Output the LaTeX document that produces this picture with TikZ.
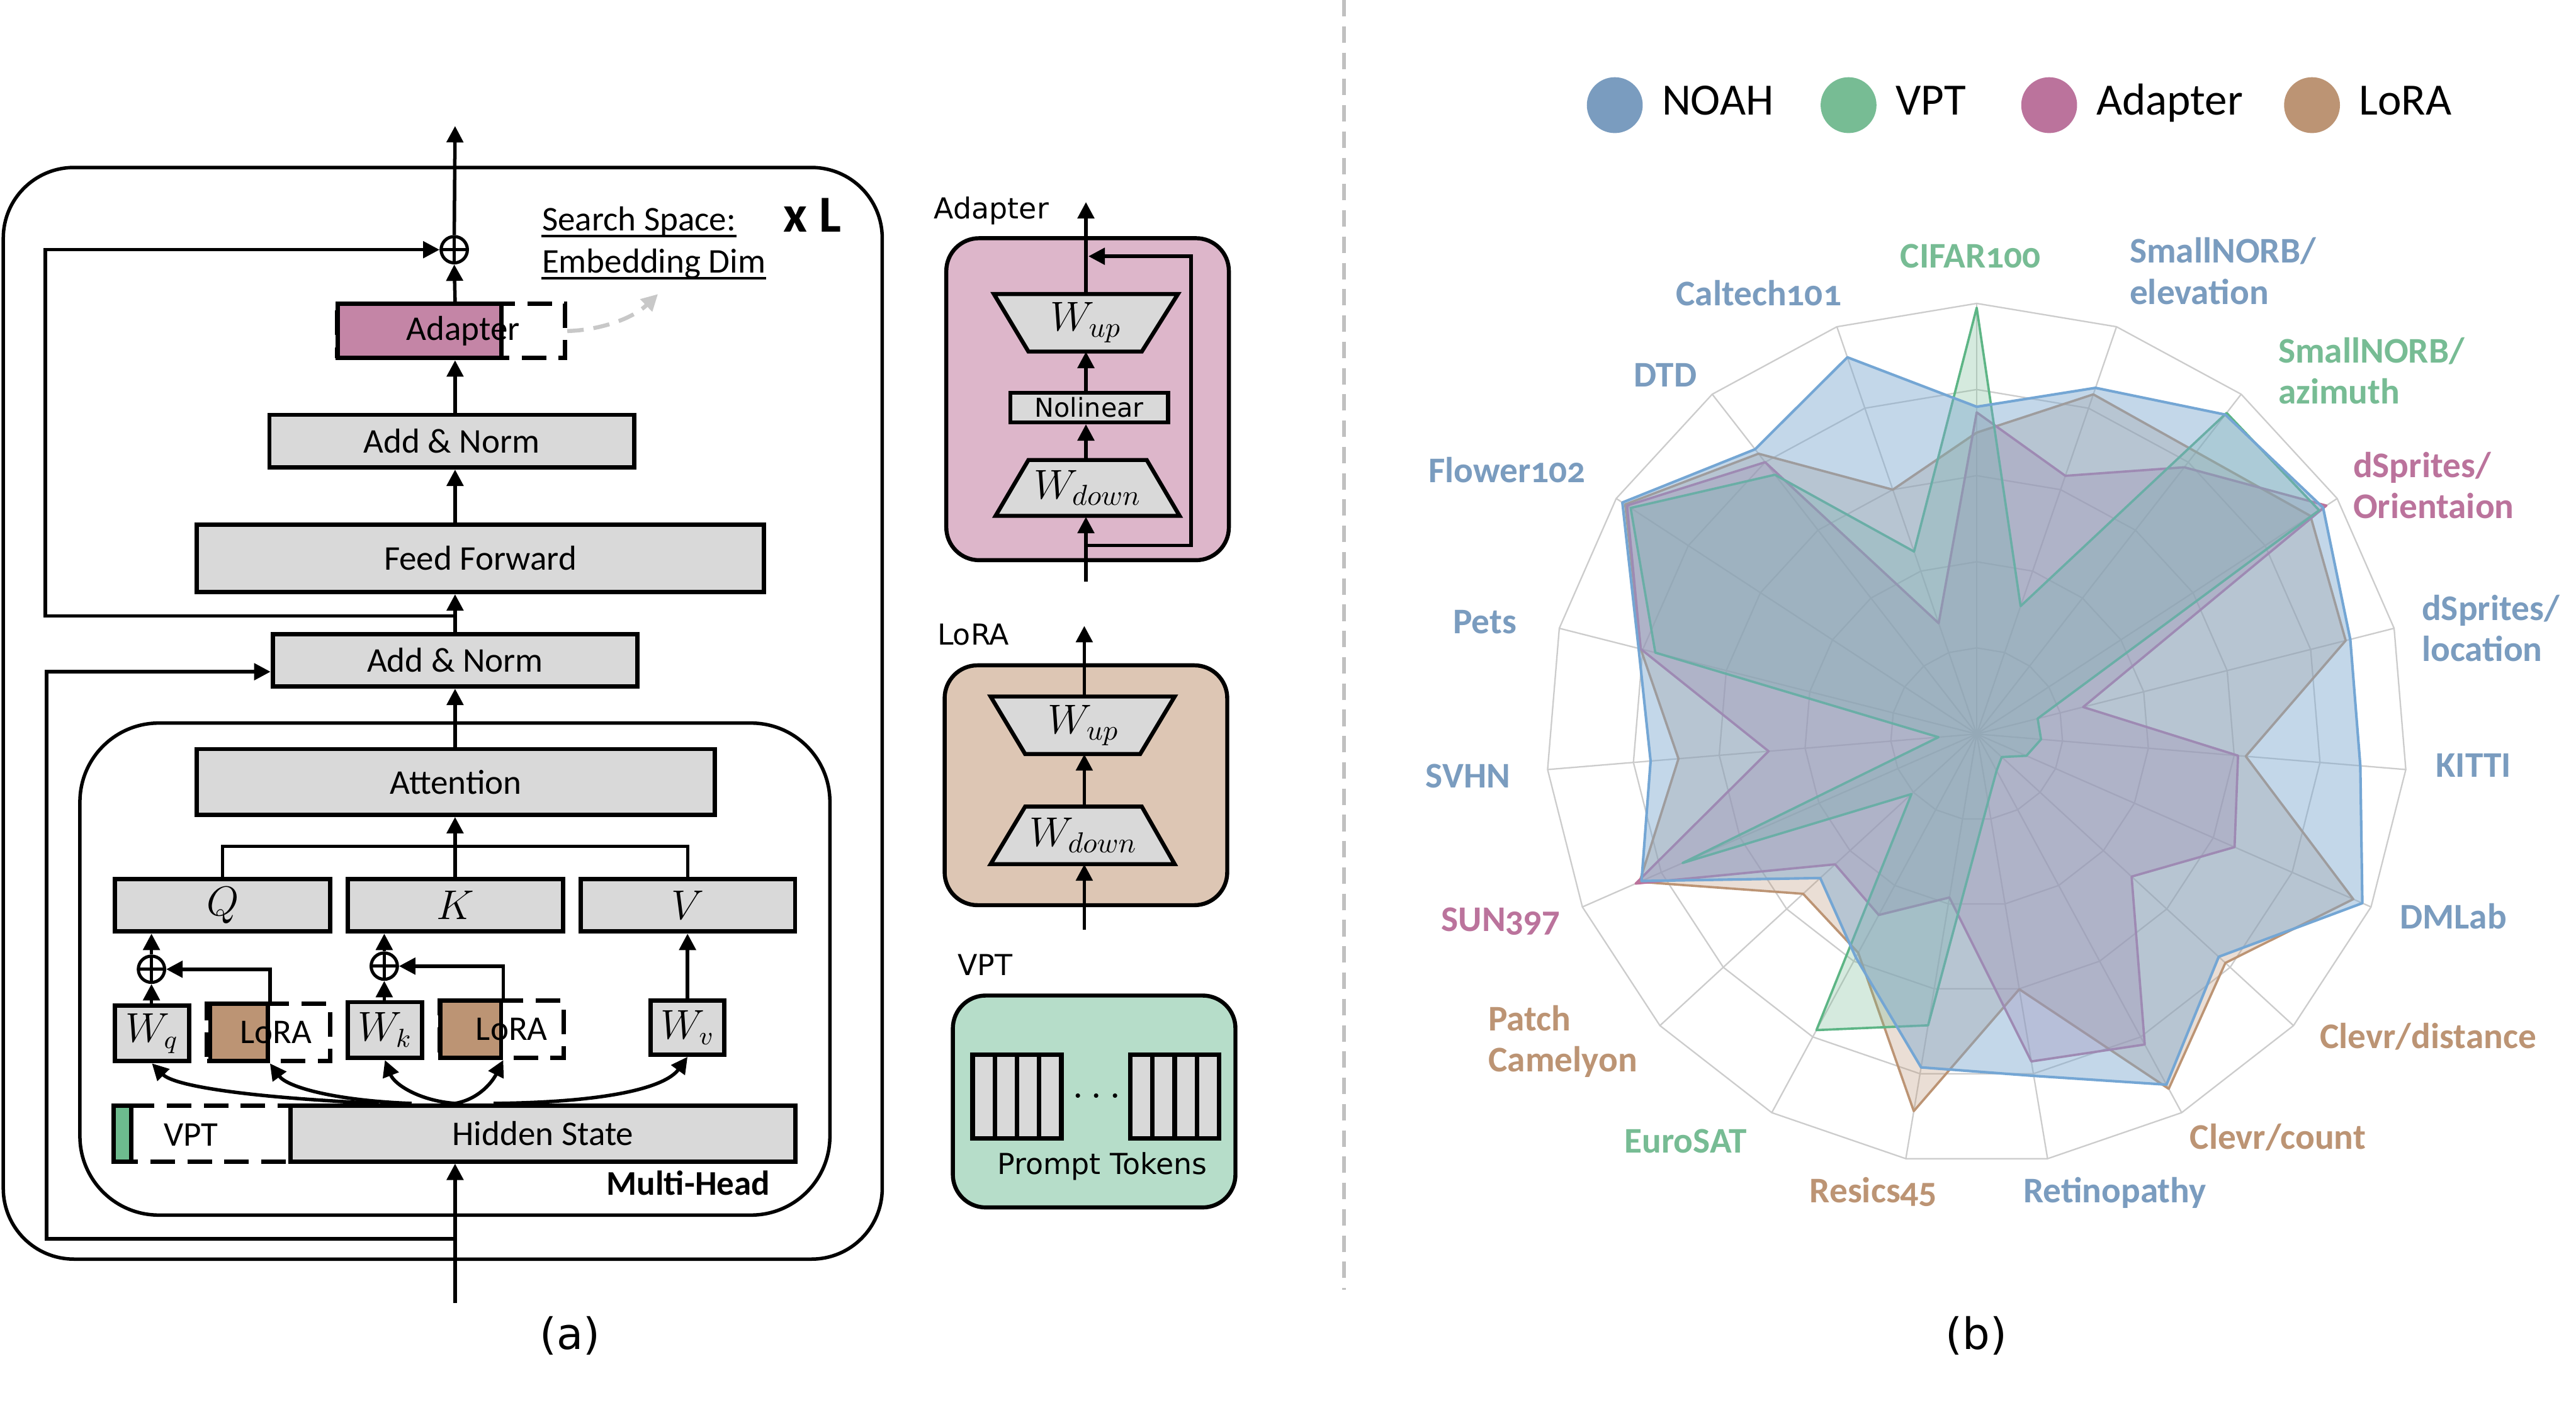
\documentclass[tikz,border=0pt]{standalone}
\usepackage{fontspec}
\setmainfont{Carlito}
\newfontfamily\panelfont{DejaVu Sans}
\newfontfamily\axisfont[Numbers=OldStyle]{Carlito}
\usepackage{tikz}
\usetikzlibrary{arrows.meta,positioning,calc}
\definecolor{boxgray}{HTML}{D9D9D9}
\definecolor{adapterc}{HTML}{BB739C}
\definecolor{lorac}{HTML}{BC9474}
\definecolor{vptc}{HTML}{77BC94}
\definecolor{noahc}{HTML}{7A9CBF}
\definecolor{noahline}{HTML}{74A6D4}
\definecolor{noahfill}{HTML}{7BA7D0}
\definecolor{vptline}{HTML}{5DB585}
\definecolor{adapterpanel}{HTML}{DDB6CA}
\definecolor{lorapanel}{HTML}{DDC6B4}
\definecolor{vptpanel}{HTML}{B6DDC9}
\definecolor{adapterbox}{HTML}{C485A6}
\definecolor{vptbox}{HTML}{6DBB8E}
\definecolor{gridc}{HTML}{CCCCCC}
\definecolor{sepc}{HTML}{C0C0C0}
\definecolor{hintc}{HTML}{C8C8C8}

% one radar polygon: name, style, 19 values clockwise from the top
\newcommand{\radarseries}[3]{%
  \foreach \v [count=\i from 0] in {#3}
    \coordinate (#1\i) at ({90-\i*360/19}:\v);
  \filldraw[#2] (#10) \foreach \i in {1,...,18}{ -- (#1\i)} -- cycle;
}

\begin{document}
\begin{tikzpicture}[x=0.2mm, y=-0.2mm, >={Triangle[length=2mm,width=2mm]},
    font=\fontsize{12}{14}\selectfont,
    frame/.style={draw, line width=1.2pt, rounded corners=8.6mm, inner sep=0pt},
    box/.style={draw, line width=1.5pt, fill=boxgray, inner sep=0pt, minimum height=6.4mm},
    mbox/.style={box, font=\fontsize{14}{16}\selectfont},
    wbox/.style={box, font=\fontsize{13.5}{15}\selectfont, minimum height=6.8mm},
    dbox/.style={draw, line width=1.5pt, dash pattern=on 3mm off 1.5mm, inner sep=0pt, minimum height=7mm},
    patch/.style={draw, line width=1.5pt, inner sep=0pt, minimum height=7mm},
    plus/.style={draw, circle, line width=1.1pt, inner sep=0pt, minimum size=3.2mm,
      path picture={\draw[line width=1.1pt] (path picture bounding box.north) -- (path picture bounding box.south)
                    (path picture bounding box.west) -- (path picture bounding box.east);}},
    flow/.style={->, line width=1.2pt},
    hint/.style={->, line width=1.4pt, hintc, dash pattern=on 2mm off 1.2mm},
    uline/.style={line width=0.8pt},
    panel/.style={draw, line width=1.4pt, rounded corners=4mm, inner sep=0pt, minimum width=34.4mm},
    paneltitle/.style={font=\panelfont\fontsize{10}{12}\selectfont, anchor=base, inner sep=0pt},
    trap/.style={draw, line width=1.4pt, fill=boxgray, line join=miter},
    wlab/.style={inner sep=0pt, minimum height=6.9mm, font=\fontsize{14}{16}\selectfont},
    nlbox/.style={draw, line width=1.4pt, fill=boxgray, inner sep=0pt, minimum width=19.2mm,
      minimum height=3.6mm, font=\panelfont\fontsize{9}{10}\selectfont},
    token/.style={draw, line width=1.6pt, fill=boxgray, inner sep=0pt, minimum width=2.7mm, minimum height=10.2mm},
    grid/.style={gridc, line width=0.5pt},
    lorapoly/.style={draw=lorac, fill=lorac, fill opacity=0.3, line width=0.8pt, line join=round},
    adapterpoly/.style={draw=adapterc, fill=adapterc, fill opacity=0.3, line width=0.8pt, line join=round},
    vptpoly/.style={draw=vptline, fill=vptc, fill opacity=0.3, line width=0.8pt, line join=round},
    noahpoly/.style={draw=noahline, fill=noahfill, fill opacity=0.45, line width=0.9pt, line join=round},
    axislab/.style={font=\axisfont\bfseries\fontsize{12.5}{14.2}\selectfont, inner sep=0pt},
    legdot/.style={circle, inner sep=0pt, minimum size=6.8mm},
    legtext/.style={font=\fontsize{15.5}{18}\selectfont, inner sep=0pt, text height=1.38ex, text depth=0pt},
    caption/.style={font=\panelfont\fontsize{15}{18}\selectfont},
  ]
  \useasboundingbox (0,0) rectangle (1568,855);
  \fill[white] (0,0) rectangle (1568,855);

  % ===== (a) one transformer layer =====
  \node[frame, minimum width=107mm, minimum height=132.9mm] (layer) at (269.5,434.2) {};
  \node[frame, rounded corners=9.6mm, minimum width=91.3mm, minimum height=59.9mm] (mhsa) at (276.9,589.9) {};
  \node[font=\fontsize{12}{14}\selectfont\bfseries, anchor=base, inner sep=0pt] (mhlab) at (419,727.3) {Multi-Head};

  \node[box, minimum width=61.4mm, minimum height=6.8mm] (hs) at (330.5,690) {Hidden State};
  \node[dbox, minimum width=21.6mm, minimum height=6.8mm] (vptd) at (123,690) {};
  \node[patch, fill=vptbox, minimum width=2.2mm, minimum height=6.8mm] (vptp) at (74.5,690) {};
  \node (vptt) at (116.3,690.7) {VPT};

  \node[wbox, minimum width=9mm] (wq) at (92.5,629) {$W_q$};
  \node[dbox, minimum width=15mm] (lora1d) at (163.5,628.5) {};
  \node[patch, fill=lorac, minimum width=7mm] (lora1) at (145.5,628.5) {};
  \node (lora1t) at (168,628.5) {LoRA};
  \node[wbox, minimum width=9.1mm] (wk) at (234.3,627) {$W_k$};
  \node[dbox, minimum width=15.1mm] (lora2d) at (305.3,626.5) {};
  \node[patch, fill=lorac, minimum width=7.4mm] (lora2) at (286.5,626.5) {};
  \node (lora2t) at (311.5,626.5) {LoRA};
  \node[wbox, minimum width=9mm, minimum height=6.6mm] (wv) at (418.5,625.5) {$W_v$};

  \node[plus] (pq) at (92.2,590) {};
  \node[plus] (pk) at (233.9,588.1) {};

  \node[mbox, minimum width=26.2mm] (q) at (135.5,551) {$Q$};
  \node[mbox, minimum width=26.2mm] (k) at (277.2,551) {$K$};
  \node[mbox, minimum width=26.1mm] (v) at (418.7,551) {$V$};
  \node[box, minimum width=63.1mm, minimum height=8mm] (att) at (277.5,476) {Attention};

  \node[box, minimum width=44.4mm] (an1) at (277,401.9) {Add \& Norm};
  \node[box, minimum width=69mm, minimum height=8.2mm] (ff) at (292.4,339.9) {Feed Forward};
  \node[box, minimum width=44.4mm] (an2) at (275,268.5) {Add \& Norm};
  \node[dbox, minimum width=27.8mm, minimum height=6.6mm] (addash) at (274.5,201.5) {};
  \node[patch, fill=adapterbox, minimum width=19.9mm, minimum height=6.6mm] (ad) at (255.3,201.5) {};
  \node (adt) at (282,201.5) {Adapter};
  \node[plus] (plus) at (276.5,152) {};

  \node[anchor=base west, inner sep=0pt] (ss1) at (329.6,140.5) {Search Space:};
  \node[anchor=base west, inner sep=0pt] (ss2) at (329.6,166.2) {Embedding Dim};
  \draw[uline] ([yshift=-0.65mm]ss1.base west) -- ([yshift=-0.65mm]ss1.base east);
  \draw[uline] ([yshift=-0.65mm]ss2.base west) -- ([yshift=-0.65mm]ss2.base east);
  \node[anchor=base, inner sep=0pt, font=\fontsize{18}{20}\selectfont\bfseries] (xl) at (494.5,141.1) {x L};

  \coordinate (in) at (277,793);
  \coordinate (out) at (277,76.7);
  \coordinate (qkv) at (277,515.2);
  \coordinate (res0) at (277,754);
  \coordinate (res1) at (277,375);
  \coordinate (hinttip) at (400.5,179);

  \draw[flow] (in) -- (in |- hs.south);
  % hidden state feeds every projection
  \draw[flow] ([xshift=-20mm]hs.north) .. controls (150,668) and (106,661) .. (wq.south);
  \draw[flow] ([xshift=-16mm]hs.north) .. controls (205,670) and (175,662) .. (lora1.south east);
  \draw[flow] ([xshift=-10.7mm]hs.north) .. controls (255,670) and (240,660) .. (wk.south);
  \draw[flow] ([xshift=-10.7mm]hs.north) .. controls (292,669) and (300,658) .. (lora2.south east);
  \draw[flow] ([xshift=-6mm]hs.north) .. controls (370,671) and (405,662) .. (wv.south);

  \draw[flow] (pq |- wq.north) -- (pq.south);
  \draw[flow] (pq.north) -- (pq |- q.south);
  \draw[flow] (lora1.north east) |- (pq.east);
  \draw[flow] (pk |- wk.north) -- (pk.south);
  \draw[flow] (pk.north) -- (pk |- k.south);
  \draw[flow] (lora2.north east) |- (pk.east);
  \draw[flow] (wv.north) -- (wv.north |- v.south);

  \draw[line width=1.2pt] (q.north) |- (qkv) -| (v.north);
  \draw[line width=1.2pt] (qkv |- k.north) -- (qkv);
  \draw[flow] (qkv) -- (qkv |- att.south);
  \draw[flow] (in |- att.north) -- (in |- an1.south);
  \draw[flow] (in |- an1.north) -- (in |- ff.south);
  \draw[flow] (in |- ff.north) -- (in |- an2.south);
  \draw[flow] (in |- an2.north) -- (in |- ad.south);
  \draw[flow] (in |- ad.north) -- (plus.south);
  \draw[flow] (plus.north) -- (out);

  % residual paths
  \draw[flow] (res1) -- ++(-249.4,0) |- (plus.west);
  \draw[flow] (res0) -- ++(-248.6,0) |- ([yshift=-1.4mm]an1.west);
  \draw[hint] (addash.east) .. controls (365,201) and (385,194) .. (hinttip);

  % ===== module details =====
  \node[panel, fill=adapterpanel, minimum height=39.2mm] (adp) at (662,243) {};
  \node[paneltitle] (adptitle) at (603.5,133) {Adapter};
  \draw[trap] (605,179) -- (717,179) -- (695,214) -- (626,214) -- cycle;
  \node[wlab] (aup) at (661,196.5) {$W_{up}$};
  \node[nlbox] (anl) at (663,248) {Nolinear};
  \draw[trap] (626,280) -- (698,280) -- (718,314) -- (606,314) -- cycle;
  \node[wlab] (adown) at (662,297) {$W_{down}$};
  \coordinate (ain) at (661,354);
  \coordinate (aout) at (661,123);
  \coordinate (askip) at (661,332);
  \coordinate (aadd) at (662.5,156);
  \draw[flow] (ain) -- (ain |- adown.south);
  \draw[flow] (ain |- adown.north) -- (ain |- anl.south);
  \draw[flow] (ain |- anl.north) -- (ain |- aup.south);
  \draw[flow] (ain |- aup.north) -- (aout);
  \draw[flow] (askip) -- ++(64,0) |- (aadd);

  \node[panel, fill=lorapanel, minimum height=29.2mm] (lrp) at (661,478) {};
  \node[paneltitle] (lrptitle) at (592.5,392.6) {LoRA};
  \draw[trap] (603,424) -- (715,424) -- (694,459) -- (624,459) -- cycle;
  \node[wlab] (lup) at (659.5,441.5) {$W_{up}$};
  \draw[trap] (624,491) -- (695,491) -- (715,526) -- (603,526) -- cycle;
  \node[wlab] (ldown) at (659.5,508.5) {$W_{down}$};
  \coordinate (lin) at (660,566);
  \coordinate (lout) at (660,381);
  \draw[flow] (lin) -- (lin |- ldown.south);
  \draw[flow] (lin |- ldown.north) -- (lin |- lup.south);
  \draw[flow] (lin |- lup.north) -- (lout);

  \node[panel, fill=vptpanel, minimum height=25.8mm] (vpp) at (666,670.5) {};
  \node[paneltitle] (vpptitle) at (599.5,593.7) {VPT};
  \foreach \x [count=\n] in {598.75,612.25,625.75,639.25,694.75,708.25,721.75,735.25}
    \node[token] (tok\n) at (\x,667.5) {};
  \node[font=\fontsize{14}{16}\selectfont] (dots) at (667.5,668) {$\cdots$};
  \node[font=\panelfont\fontsize{10}{12}\selectfont, anchor=base, inner sep=0pt] (ptok) at (671,715) {Prompt Tokens};

  \node[caption] (capa) at (347,813) {(a)};
  \draw[sepc, line width=1.3pt, dash pattern=on 2mm off 1.2mm] (818,0) -- (818,785);

  % ===== (b) radar chart =====
  \node[legdot, fill=noahc] (kNOAH) at (982.9,64) {};
  \node[legtext, right=2.2mm of kNOAH] (tNOAH) {NOAH};
  \node[legdot, fill=vptc] (kVPT) at (1125.2,64) {};
  \node[legtext, right=2.2mm of kVPT] (tVPT) {VPT};
  \node[legdot, fill=adapterc] (kAdapter) at (1247.3,64) {};
  \node[legtext, right=2.2mm of kAdapter] (tAdapter) {Adapter};
  \node[legdot, fill=lorac] (kLoRA) at (1407.3,64) {};
  \node[legtext, right=2.2mm of kLoRA] (tLoRA) {LoRA};

  \begin{scope}[shift={(1203.2,446.8)}, x=52.42mm, y=52.42mm]
    \foreach \r in {0.2,0.4,0.6,0.8,1}
      \draw[grid] (90:\r) \foreach \i in {1,...,18}{ -- ({90-\i*360/19}:\r)} -- cycle;
    \foreach \i in {0,...,18}
      \draw[grid] (0,0) -- ({90-\i*360/19}:1);
    \radarseries{lora}{lorapoly}{0.70,0.834,0.83,0.926,0.884,0.627,0.955,0.785,0.937,0.601,0.888,0.578,0.548,0.855,0.695,0.805,0.975,0.825,0.60}
    \radarseries{adapter}{adapterpoly}{0.747,0.634,0.785,0.97,0.255,0.609,0.654,0.489,0.82,0.771,0.385,0.478,0.447,0.865,0.485,0.805,0.97,0.80,0.272}
    \radarseries{vpt}{vptpoly}{0.99,0.314,0.945,0.95,0.146,0.15,0.126,0.079,0.097,0.16,0.686,0.782,0.206,0.746,0.089,0.77,0.96,0.763,0.448}
    \radarseries{noah}{noahpoly}{0.76,0.85,0.94,0.961,0.895,0.894,0.978,0.764,0.926,0.805,0.785,0.59,0.494,0.85,0.76,0.81,0.983,0.838,0.925}
  \end{scope}

  \node[axislab, text=vptc, anchor=base] (lCIFAR) at (1199.5,162.9) {CIFAR100};
  \node[axislab, text=noahc, align=left, anchor=west] (lElev) at (1296,165) {SmallNORB/\\elevation};
  \node[axislab, text=vptc, align=left, anchor=west] (lAzi) at (1386.4,225.8) {SmallNORB/\\azimuth};
  \node[axislab, text=adapterc, align=left, anchor=west] (lOri) at (1432,295.3) {dSprites/\\Orientaion};
  \node[axislab, text=noahc, align=left, anchor=west] (lLoc) at (1473.8,382.3) {dSprites/\\location};
  \node[axislab, text=noahc, anchor=base] (lKITTI) at (1505.6,473.1) {KITTI};
  \node[axislab, text=noahc, anchor=base] (lDMLab) at (1493.3,565.3) {DMLab};
  \node[axislab, text=lorac, anchor=base] (lDist) at (1478,638.3) {Clevr/distance};
  \node[axislab, text=lorac, anchor=base] (lCount) at (1386.5,699.5) {Clevr/count};
  \node[axislab, text=noahc, anchor=base] (lRetino) at (1287.3,732) {Retinopathy};
  \node[axislab, text=lorac, anchor=base] (lResisc) at (1140.3,732) {Resics45};
  \node[axislab, text=vptc, anchor=base] (lEuro) at (1026,701.9) {EuroSAT};
  \node[axislab, text=lorac, align=left, anchor=west] (lPatch) at (905.7,633.9) {Patch\\Camelyon};
  \node[axislab, text=adapterc, anchor=base] (lSUN) at (913.6,567) {SUN397};
  \node[axislab, text=noahc, anchor=base] (lSVHN) at (893.6,479.5) {SVHN};
  \node[axislab, text=noahc, anchor=base] (lPets) at (903.8,385.8) {Pets};
  \node[axislab, text=noahc, anchor=base] (lFlower) at (917.3,293.6) {Flower102};
  \node[axislab, text=noahc, anchor=base] (lDTD) at (1013.7,235.5) {DTD};
  \node[axislab, text=noahc, anchor=base] (lCaltech) at (1070.5,185.9) {Caltech101};

  \node[caption] (capb) at (1203,813) {(b)};
\end{tikzpicture}
\end{document}
